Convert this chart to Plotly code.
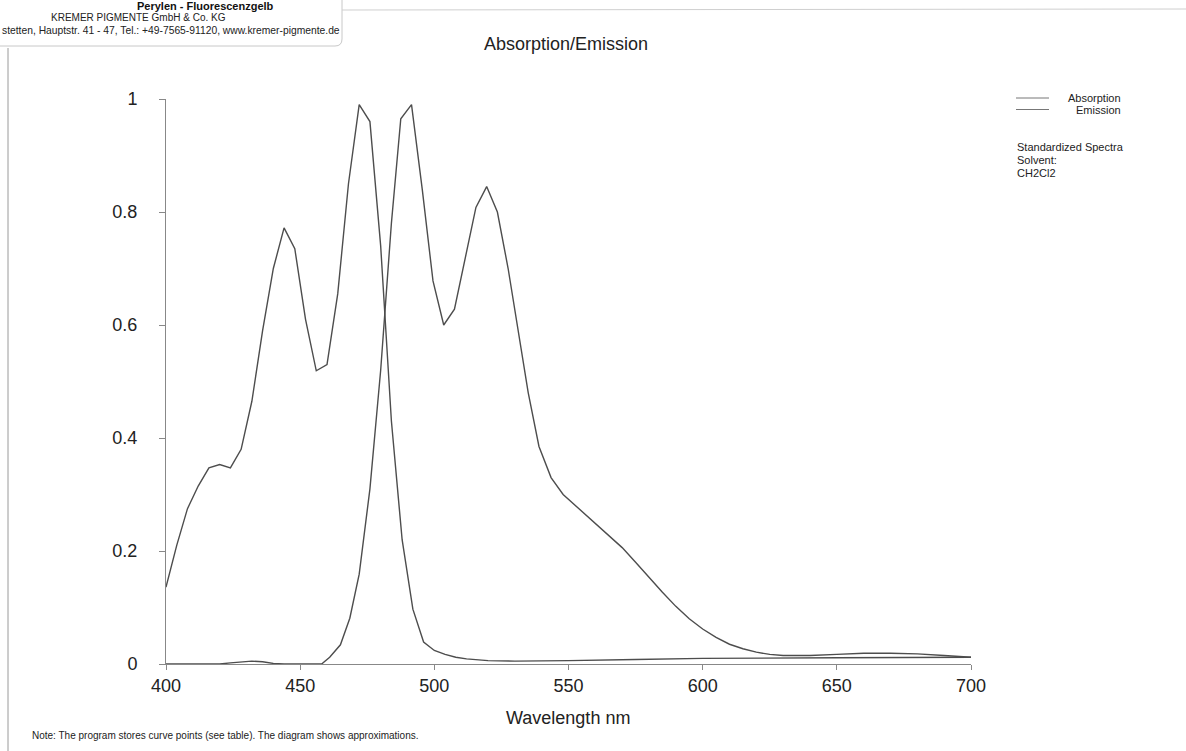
import plotly.graph_objects as go

# ---- data ----
abs_nm = [400, 404, 408, 412, 416, 420, 424, 428, 432, 436, 440, 444, 448, 452, 456,
          460, 464, 468, 472, 476, 480, 484, 488, 492, 496, 500, 504, 508, 512, 516,
          520, 530, 540, 550, 575, 600, 650, 700]
abs_val = [0.136, 0.21, 0.275, 0.315, 0.347, 0.353, 0.347, 0.38, 0.465, 0.59, 0.70, 0.772,
           0.735, 0.61, 0.519, 0.530, 0.655, 0.85, 0.99, 0.96, 0.74, 0.43, 0.22, 0.097,
           0.039, 0.024, 0.017, 0.012, 0.009, 0.007, 0.006, 0.005, 0.005, 0.006, 0.008,
           0.010, 0.011, 0.012]

em_nm = [400, 420, 424, 428, 432, 436, 440, 444, 456, 458, 461, 465, 468.5, 472, 476,
         480, 484, 487.5, 491.5, 495.5, 499.5, 503.5, 507.5, 511.5, 515.5, 519.5, 523.5,
         527.5, 531.5, 535, 539, 543.5, 548, 552, 556, 560, 565, 570, 575, 580, 585, 590,
         595, 600, 605, 610, 615, 620, 625, 630, 640, 650, 660, 670, 680, 690, 700]
em_val = [0.0, 0.0, 0.002, 0.004, 0.005, 0.004, 0.001, 0.0, 0.0, 0.0, 0.012, 0.034, 0.081,
          0.159, 0.31, 0.52, 0.78, 0.965, 0.99, 0.84, 0.678, 0.60, 0.628, 0.72, 0.808,
          0.845, 0.80, 0.70, 0.58, 0.48, 0.385, 0.33, 0.30, 0.283, 0.266, 0.25, 0.228,
          0.206, 0.18, 0.153, 0.127, 0.102, 0.08, 0.062, 0.047, 0.035, 0.027, 0.021,
          0.017, 0.015, 0.015, 0.017, 0.019, 0.019, 0.018, 0.015, 0.012]

x_ticks = [400, 450, 500, 550, 600, 650, 700]
y_ticks = [0, 0.2, 0.4, 0.6, 0.8, 1]
y_tick_text = ["0", "0.2", "0.4", "0.6", "0.8", "1"]

series_names = ["Absorption", "Emission"]
info_lines = ["Standardized Spectra", "Solvent:", "CH2Cl2"]

# ---- layout geometry (pixels of the 1186x751 page) ----
W, H = 1186, 751
L, R, T, B = 166, 971, 99, 664


def px(x):
    return (x - L) / (R - L)


def py(y):
    return (B - y) / (B - T)


LINE = "#4d4d4d"
FONT = "Liberation Sans, Arial, sans-serif"

fig = go.Figure()
fig.add_trace(go.Scatter(x=abs_nm, y=abs_val, mode="lines", name=series_names[0],
                         line=dict(color=LINE, width=1.4), showlegend=False))
fig.add_trace(go.Scatter(x=em_nm, y=em_val, mode="lines", name=series_names[1],
                         line=dict(color=LINE, width=1.4), showlegend=False))

shapes = []
annotations = []

# custom legend (line samples with right-aligned labels)
for i, name in enumerate(series_names):
    yy = 98 + i * 11.5
    shapes.append(dict(type="line", xref="paper", yref="paper",
                       x0=px(1016), x1=px(1049), y0=py(yy), y1=py(yy),
                       line=dict(color="#777", width=1)))
    annotations.append(dict(xref="paper", yref="paper", x=px(1123), y=py(yy),
                            xanchor="right", yanchor="middle", showarrow=False,
                            text=name, font=dict(family=FONT, size=11, color="#222")))

for i, line in enumerate(info_lines):
    annotations.append(dict(xref="paper", yref="paper", x=px(1015), y=py(147 + i * 12.8),
                            xanchor="left", yanchor="middle", showarrow=False,
                            text=line, font=dict(family=FONT, size=11, color="#222")))

# header block
annotations.append(dict(xref="paper", yref="paper", x=px(205), y=py(6),
                        xanchor="center", yanchor="middle", showarrow=False,
                        text="<b>Perylen - Fluorescenzgelb</b>",
                        font=dict(family=FONT, size=11, color="#111")))
annotations.append(dict(xref="paper", yref="paper", x=px(138), y=py(17.5),
                        xanchor="center", yanchor="middle", showarrow=False,
                        text="KREMER PIGMENTE GmbH & Co. KG",
                        font=dict(family=FONT, size=10, color="#222")))
annotations.append(dict(xref="paper", yref="paper", x=px(0), y=py(30),
                        xanchor="left", yanchor="middle", showarrow=False,
                        text="stetten, Hauptstr. 41 - 47, Tel.: +49-7565-91120, www.kremer-pigmente.de",
                        font=dict(family=FONT, size=10.3, color="#222")))

# note at the bottom
annotations.append(dict(xref="paper", yref="paper", x=px(30), y=py(735),
                        xanchor="left", yanchor="middle", showarrow=False,
                        text="Note: The program stores curve points (see table). The diagram shows approximations.",
                        font=dict(family=FONT, size=10, color="#222")))

# x-axis title
annotations.append(dict(xref="paper", yref="paper", x=px(568), y=py(718),
                        xanchor="center", yanchor="middle", showarrow=False,
                        text="Wavelength nm",
                        font=dict(family=FONT, size=18, color="#222")))

# page decorations (scan edges)
shapes.append(dict(type="path", xref="paper", yref="paper",
                   path=f"M {px(-5)},{py(46)} L {px(335)},{py(46)} Q {px(342)},{py(46)} {px(342)},{py(39)} L {px(342)},{py(-5)}",
                   line=dict(color="#c8c8c8", width=1)))
shapes.append(dict(type="line", xref="paper", yref="paper",
                   x0=px(342), x1=px(1186), y0=py(10), y1=py(9),
                   line=dict(color="#cfcfcf", width=1)))
shapes.append(dict(type="line", xref="paper", yref="paper",
                   x0=px(8), x1=px(8), y0=py(48), y1=py(760),
                   line=dict(color="#9a9a9a", width=1)))

fig.update_layout(
    width=W, height=H,
    margin=dict(l=L, r=W - R, t=T, b=H - B, pad=0),
    paper_bgcolor="white", plot_bgcolor="white",
    font=dict(family=FONT, color="#222"),
    title=dict(text="Absorption/Emission", x=px(566), xref="paper", xanchor="center",
               y=1 - 44 / H, yref="container", yanchor="middle",
               font=dict(family=FONT, size=18, color="#222")),
    xaxis=dict(range=[400, 700], tickvals=x_ticks, ticktext=[str(v) for v in x_ticks],
               showgrid=False, zeroline=False, showline=True, linecolor="#888",
               linewidth=1, ticks="outside", ticklen=5, tickcolor="#888",
               tickfont=dict(family=FONT, size=18, color="#222")),
    yaxis=dict(range=[0, 1], tickvals=y_ticks, ticktext=y_tick_text,
               showgrid=False, zeroline=False, showline=True, linecolor="#888",
               linewidth=1, ticks="outside", ticklen=6, tickcolor="#888",
               ticklabelstandoff=18,
               tickfont=dict(family=FONT, size=18, color="#222")),
    shapes=shapes,
    annotations=annotations,
)

fig.write_html(
    "out.html",
    config={"displayModeBar": False},
    post_script="document.body.style.margin='0';document.body.style.overflow='hidden';",
)
